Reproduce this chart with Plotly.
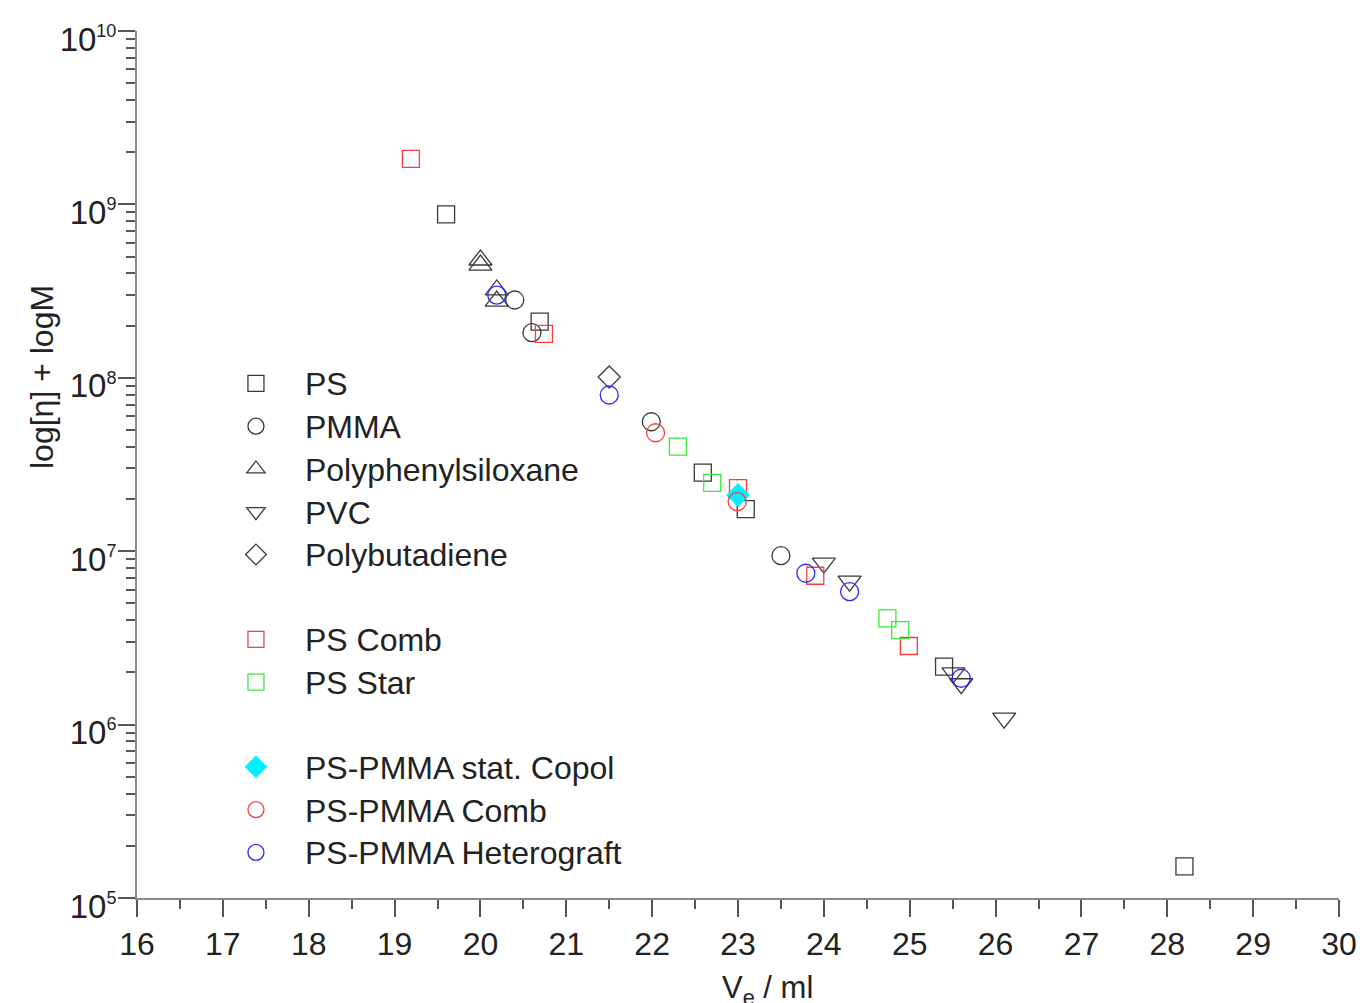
import plotly.graph_objects as go

# Elution volume (ml) vs. log[eta] + log M for several polymer families
ps_x = [19.60, 20.69, 22.59, 23.09, 25.40, 28.20]
ps_y = [8.77e8, 2.11e8, 2.84e7, 1.75e7, 2.16e6, 1.52e5]

pmma_x = [20.40, 20.60, 21.99, 23.50]
pmma_y = [2.81e8, 1.82e8, 5.58e7, 9.42e6]

pps_x = [20.00, 20.00, 20.19, 20.19]
pps_y = [4.78e8, 4.47e8, 3.21e8, 2.77e8]

pvc_x = [24.00, 24.30, 25.51, 25.60, 26.10]
pvc_y = [8.53e6, 6.72e6, 1.99e6, 1.72e6, 1.09e6]

pbd_x = [21.50]
pbd_y = [1.01e8]

ps_comb_x = [19.19, 20.74, 23.00, 23.90, 24.99]
ps_comb_y = [1.83e9, 1.79e8, 2.31e7, 7.22e6, 2.84e6]

ps_star_x = [22.30, 22.70, 24.74, 24.89]
ps_star_y = [4.01e7, 2.48e7, 4.10e6, 3.51e6]

copol_x = [23.00]
copol_y = [2.11e7]

pmma_comb_x = [22.04, 22.99]
pmma_comb_y = [4.82e7, 1.93e7]

hetero_x = [20.19, 21.50, 23.79, 24.30, 25.60]
hetero_y = [3.00e8, 7.96e7, 7.46e6, 5.84e6, 1.85e6]

# decade ticks on the log axis
y_tick_vals = [1e5, 1e6, 1e7, 1e8, 1e9, 1e10]
y_tick_exps = [5, 6, 7, 8, 9, 10]

FONT = "Liberation Sans, Arial, sans-serif"
TEXT = "#222222"
DARK = "#3a3a3a"
RED = "#ff3b3b"
GREEN = "#3ce83c"
BLUE = "#2828ff"
CYAN = "#00f0ff"

series = [
    ("PS", ps_x, ps_y, "square-open", DARK, 17, "g1"),
    ("PMMA", pmma_x, pmma_y, "circle-open", DARK, 18, "g1"),
    ("Polyphenylsiloxane", pps_x, pps_y, "triangle-up-open", DARK, 20, "g1"),
    ("PVC", pvc_x, pvc_y, "triangle-down-open", DARK, 20, "g1"),
    ("Polybutadiene", pbd_x, pbd_y, "diamond-open", DARK, 17, "g1"),
    ("PS Comb", ps_comb_x, ps_comb_y, "square-open", RED, 17, "g2"),
    ("PS Star", ps_star_x, ps_star_y, "square-open", GREEN, 17, "g2"),
    ("PS-PMMA stat. Copol", copol_x, copol_y, "diamond", CYAN, 17, "g3"),
    ("PS-PMMA Comb", pmma_comb_x, pmma_comb_y, "circle-open", RED, 18, "g3"),
    ("PS-PMMA Heterograft", hetero_x, hetero_y, "circle-open", BLUE, 18, "g3"),
]

fig = go.Figure()
for name, xs, ys, sym, col, size, grp in series:
    fig.add_trace(go.Scatter(
        x=xs, y=ys, mode="markers",
        name="<span style='font-size:32px'>%s</span>" % name,
        legendgroup=grp,
        marker=dict(symbol=sym, size=size, color=col,
                    line=dict(color=col, width=1.3)),
    ))

y_tick_text = ["10<sup><span style='font-size:18px'>%d</span></sup>" % e
               for e in y_tick_exps]

fig.update_layout(
    width=1360, height=1003,
    margin=dict(l=137, r=21, t=31, b=105, autoexpand=False),
    paper_bgcolor="white", plot_bgcolor="white",
    font=dict(family=FONT, size=30, color=TEXT),
    showlegend=True,
    legend=dict(
        x=0.0582, y=0.624, xanchor="left", yanchor="top",
        bgcolor="rgba(0,0,0,0)", borderwidth=0,
        font=dict(family=FONT, size=30.6, color=TEXT),
        tracegroupgap=42, traceorder="grouped", itemwidth=88,
    ),
    xaxis=dict(
        range=[16, 30], dtick=1, tick0=16, automargin=False,
        showline=True, linecolor="#8a8a8a", linewidth=2,
        ticks="outside", ticklen=17, tickwidth=1.5, tickcolor="#555555",
        minor=dict(dtick=0.5, ticks="outside", ticklen=9,
                   tickwidth=1.5, tickcolor="#555555"),
        showgrid=False, zeroline=False,
        tickfont=dict(family=FONT, size=32, color=TEXT),
    ),
    yaxis=dict(
        type="log", range=[5, 10], automargin=False,
        tickmode="array", tickvals=y_tick_vals, ticktext=y_tick_text,
        ticklabelshift=8, ticklabelstandoff=-5,
        showline=True, linecolor="#8a8a8a", linewidth=2,
        ticks="outside", ticklen=17, tickwidth=1.5, tickcolor="#555555",
        minor=dict(dtick="D1", ticks="outside", ticklen=9,
                   tickwidth=1.5, tickcolor="#555555"),
        showgrid=False, zeroline=False,
        tickfont=dict(family=FONT, size=33, color=TEXT),
    ),
    annotations=[
        dict(text="log[\u03b7] + logM", xref="paper", yref="paper",
             x=(42 - 137) / 1202, y=(898 - 377) / 867, textangle=-90,
             showarrow=False, xanchor="center", yanchor="middle",
             font=dict(family=FONT, size=32, color=TEXT)),
        dict(text="V<sub>e</sub> / ml", xref="paper", yref="paper",
             x=(767 - 137) / 1202, y=(898 - 990) / 867,
             showarrow=False, xanchor="center", yanchor="middle",
             font=dict(family=FONT, size=31, color=TEXT)),
    ],
)

fig.write_html("out.html")
